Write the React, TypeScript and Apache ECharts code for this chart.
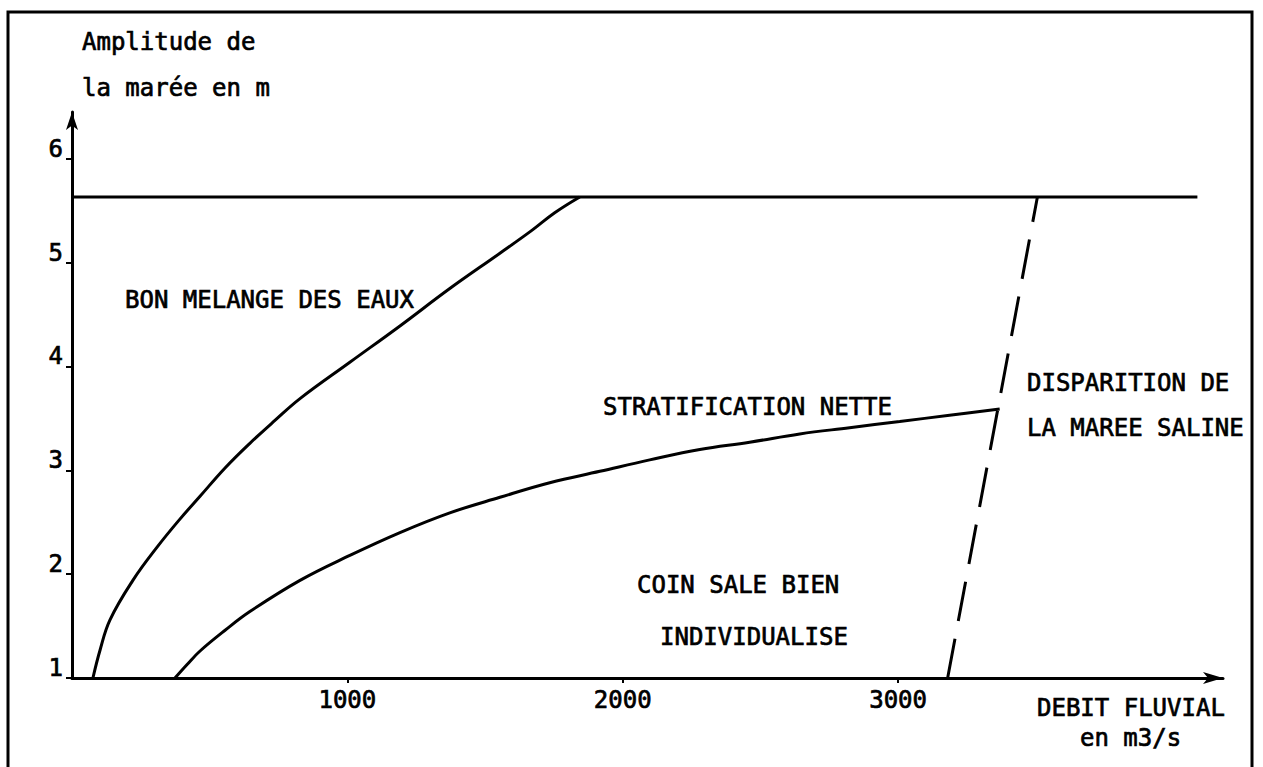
import React, { useEffect, useRef } from "react";
import * as echarts from "echarts";

// Upper boundary: "bon mélange des eaux" vs "stratification nette"
const mixingX = [76, 102, 138, 221, 309, 392, 465, 555, 646, 737, 828, 1009, 1191, 1372, 1554, 1670, 1753, 1844];
const mixingY = [1.0, 1.27, 1.56, 1.94, 2.26, 2.53, 2.75, 3.02, 3.26, 3.48, 3.69, 4.04, 4.39, 4.75, 5.09, 5.31, 5.48, 5.632];

// Lower boundary: "stratification nette" vs "coin salé"
const wedgeX = [374, 418, 465, 556, 646, 828, 1009, 1191, 1372, 1554, 1735, 1917, 2098, 2280, 2461, 2643, 2824, 3006, 3187, 3369];
const wedgeY = [1.0, 1.13, 1.26, 1.46, 1.64, 1.94, 2.18, 2.4, 2.59, 2.74, 2.88, 2.99, 3.1, 3.2, 3.27, 3.35, 3.41, 3.47, 3.53, 3.59];

// Upper tidal-amplitude limit
const limitX = [0, 4087];
const limitY = [5.632, 5.632];

// Disappearance of the saline tide (dashed)
const vanishX = [3180, 3506];
const vanishY = [1.0, 5.632];

const xTicks = [1000, 2000, 3000];
const yTicks = [1, 2, 3, 4, 5, 6];

const FONT = '"DejaVu Sans Mono", monospace';
const FS = 24;

const zip = (xs: number[], ys: number[]) => xs.map((x, i) => [x, ys[i]]);

export default function App() {
  const ref = useRef<HTMLDivElement>(null);
  useEffect(() => {
    if (!ref.current) return;
    const chart = echarts.init(ref.current, undefined, { renderer: "svg" });
    const lineStyle = { color: "#000", width: 3 };
    const txt = (text: string, x: number, y: number) => ({
      type: "text",
      x,
      y,
      style: {
        text,
        font: `${FS}px ${FONT}`,
        fill: "#000",
        stroke: "#000",
        lineWidth: 0.7,
        align: "left",
        verticalAlign: "middle",
      },
    });
    const labelStyle = {
      color: "#000",
      fontFamily: FONT,
      fontSize: FS,
      textBorderColor: "#000",
      textBorderWidth: 0.7,
    };
    chart.setOption({
      animation: false,
      backgroundColor: "#fff",
      grid: { left: 72, right: 40, top: 112, bottom: 89 },
      xAxis: {
        type: "value",
        min: 0,
        max: 4180,
        splitLine: { show: false },
        axisLine: {
          show: true,
          symbol: ["none", "arrow"],
          symbolSize: [9, 20],
          lineStyle: { color: "#000", width: 3 },
        },
        axisTick: {
          show: true,
          length: 5,
          customValues: xTicks,
          lineStyle: { color: "#000", width: 2 },
        },
        axisLabel: {
          show: true,
          customValues: xTicks,
          formatter: (v: number) => String(v),
          margin: 10,
          ...labelStyle,
        },
      },
      yAxis: {
        type: "value",
        min: 1,
        max: 6.45,
        splitLine: { show: false },
        axisLine: {
          show: true,
          symbol: ["none", "arrow"],
          symbolSize: [9, 18],
          lineStyle: { color: "#000", width: 3 },
        },
        axisTick: {
          show: true,
          length: 6,
          customValues: yTicks,
          lineStyle: { color: "#000", width: 2 },
        },
        axisLabel: {
          show: true,
          customValues: yTicks,
          formatter: (v: number) => String(v),
          margin: 9,
          verticalAlign: "bottom",
          lineHeight: 20,
          ...labelStyle,
        },
      },
      series: [
        {
          type: "line",
          data: zip(mixingX, mixingY),
          smooth: 0.4,
          showSymbol: false,
          symbol: "none",
          lineStyle,
        },
        {
          type: "line",
          data: zip(wedgeX, wedgeY),
          smooth: 0.4,
          showSymbol: false,
          symbol: "none",
          lineStyle,
        },
        {
          type: "line",
          data: zip(limitX, limitY),
          showSymbol: false,
          symbol: "none",
          lineStyle,
        },
        {
          type: "line",
          data: zip(vanishX, vanishY),
          showSymbol: false,
          symbol: "none",
          lineStyle: { color: "#000", width: 3, type: [40, 18] },
        },
      ],
      graphic: [
        {
          type: "rect",
          shape: { x: 8, y: 12, width: 1244, height: 800 },
          style: { fill: "none", stroke: "#000", lineWidth: 3 },
        },
        txt("Amplitude de", 82, 42),
        txt("la marée en m", 82, 88),
        txt("BON MELANGE DES EAUX", 125, 300),
        txt("STRATIFICATION NETTE", 603, 407),
        txt("COIN SALE BIEN", 637, 585),
        txt("INDIVIDUALISE", 660, 637),
        txt("DISPARITION DE", 1027, 383),
        txt("LA MAREE SALINE", 1027, 428),
        txt("DEBIT FLUVIAL", 1037, 708),
        txt("en m3/s", 1080, 738),
      ],
    });
    return () => chart.dispose();
  }, []);
  return (
    <div
      ref={ref}
      style={{ position: "absolute", left: 0, top: 0, width: 1263, height: 767 }}
    />
  );
}
